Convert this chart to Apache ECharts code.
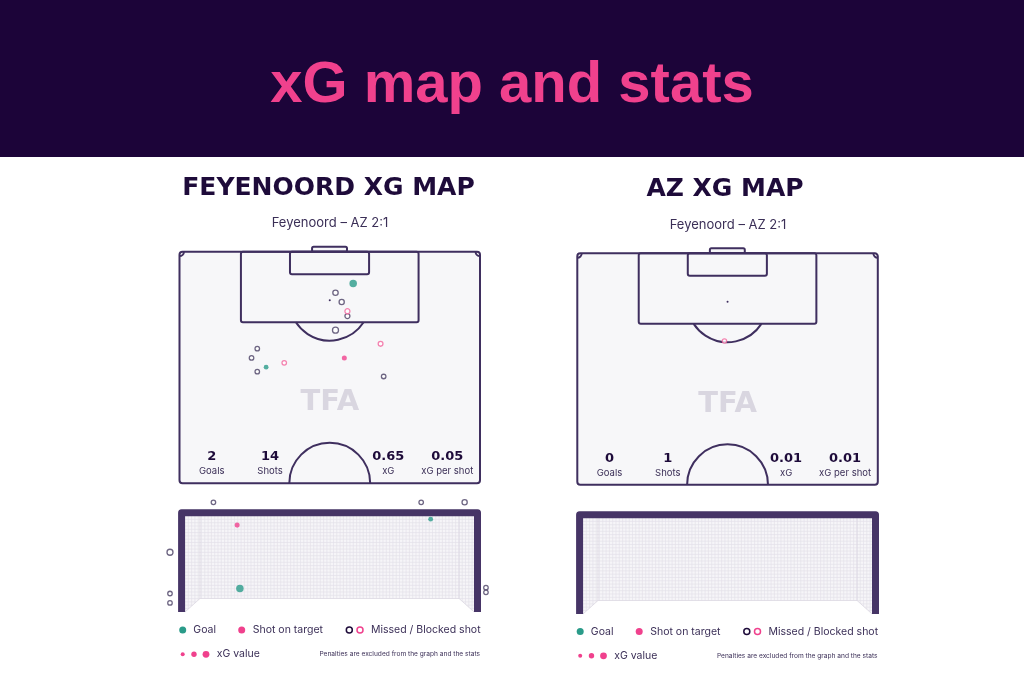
<!DOCTYPE html>
<html><head><meta charset="utf-8">
<script src="https://cdn.jsdelivr.net/npm/echarts@6/dist/echarts.min.js"></script>
<style>html,body{margin:0;padding:0;background:#fff}#c{width:1024px;height:683px}</style>
</head><body><div id="c"></div>
<script>
// ---------------- DATA ----------------
const pageTitle = 'xG map and stats';
const panelTitles = ['FEYENOORD XG MAP', 'AZ XG MAP'];
const matchLabel = 'Feyenoord – AZ 2:1';
const statLabels = ['Goals', 'Shots', 'xG', 'xG per shot'];
const feyenoordStats = ['2', '14', '0.65', '0.05'];
const azStats = ['0', '1', '0.01', '0.01'];
const legendLabels = ['Goal', 'Shot on target', 'Missed / Blocked shot', 'xG value'];
const footnote = 'Penalties are excluded from the graph and the stats';
const watermark = 'TFA';

// shots on the half pitch: [metres across (0-68), metres from goal line (0-52.5), xG, outcome]
const feyenoordShots = [
  [39.3, 7.2, 0.28, 'goal'],
  [19.6, 26.2, 0.02, 'goal'],
  [37.3, 24.1, 0.03, 'target'],
  [35.3, 9.3, 0.05, 'missed'],
  [36.7, 11.4, 0.04, 'missed'],
  [38.0, 14.6, 0.03, 'missed'],
  [35.3, 17.8, 0.10, 'missed'],
  [17.6, 22.0, 0.01, 'missed'],
  [16.3, 24.1, 0.01, 'missed'],
  [17.6, 27.2, 0.01, 'missed'],
  [46.2, 28.3, 0.01, 'missed'],
  [38.0, 13.5, 0.03, 'blocked'],
  [45.5, 20.9, 0.02, 'blocked'],
  [23.7, 25.2, 0.01, 'blocked']
];
const azShots = [
  [33.3, 19.9, 0.005, 'blocked']
];
// shots at the goal mouth: [metres from left post, metres above ground, xG, outcome]
const feyenoordGoalMouth = [
  [1.39, 0.60, 0.28, 'goal'],
  [6.22, 2.36, 0.02, 'goal'],
  [1.32, 2.21, 0.03, 'target'],
  [0.72, 2.79, 0.01, 'missed'],
  [5.98, 2.79, 0.01, 'missed'],
  [7.08, 2.79, 0.04, 'missed'],
  [-0.38, 1.52, 0.10, 'missed'],
  [-0.38, 0.47, 0.01, 'missed'],
  [-0.38, 0.23, 0.01, 'missed'],
  [7.62, 0.62, 0.01, 'missed'],
  [7.62, 0.50, 0.01, 'missed']
];
const azGoalMouth = [];

// ---------------- STYLE / LAYOUT ----------------
const C = {
  header: '#1c0439', pink: '#f0418d', teal: '#2a9b89',
  line: '#3f2f5f', frame: '#463466', dark: '#1e0b3a', text: '#3b2f57', miss: '#4a4064',
  pitch: '#f7f7f9', net: '#f6f5f8', netLine: '#e4e1ea', wm: '#d9d6e0'
};
const panels = [
  { px: 179.5, py: 251.7, gx: 165.25, gy: 498, tx: 328.5, ty: 188, sx: 330, sy: 223.5, lx: 0, ly: 0, stats: feyenoordStats, shots: feyenoordShots, mouth: feyenoordGoalMouth, title: panelTitles[0] },
  { px: 577.3, py: 253.3, gx: 563.25, gy: 500, tx: 725, ty: 189, sx: 728, sy: 225, lx: 397.5, ly: 1.5, stats: azStats, shots: azShots, mouth: azGoalMouth, title: panelTitles[1] }
];
const PW = 300.5, PH = 231.5, GW = 328.6, GH = 114;
const BODY = 'Inter, "Noto Sans", sans-serif';

function sizeOf(xg) { return 3.8 + 7 * Math.sqrt(xg); }
function toItem(s) {
  const sz = sizeOf(s[2]);
  const o = s[3];
  let st;
  if (o === 'goal') st = { color: C.teal };
  else if (o === 'target') st = { color: C.pink };
  else if (o === 'missed') st = { color: '#ffffff', borderColor: C.miss, borderWidth: 1.3 };
  else st = { color: '#ffffff', borderColor: '#f2659e', borderWidth: 1.3 };
  return { value: s, symbolSize: sz, itemStyle: st };
}

function renderPitch(params, api) {
  const c = (x, y) => api.coord([x, y]);
  const a = c(0, 0), b = c(68, 52.5);
  const k = (b[0] - a[0]) / 68;
  const st = { stroke: C.line, lineWidth: 2, fill: null };
  const rect = (x0, y0, x1, y1, r, fill) => {
    const p = c(x0, y0), q = c(x1, y1);
    return { type: 'rect', shape: { x: p[0], y: p[1], width: q[0] - p[0], height: q[1] - p[1], r: r }, style: Object.assign({}, st, { fill: fill || null }) };
  };
  const ch = [];
  ch.push(rect(30, -1.15, 37.9, 0, 1.5, C.pitch));
  ch.push(rect(0, 0, 68, 52.5, 3, C.pitch));
  const wc = c(34, 34.3);
  ch.push({ type: 'text', x: wc[0], y: wc[1], style: { text: watermark, fill: C.wm, font: '900 29px "DejaVu Sans"', align: 'center', verticalAlign: 'middle' } });
  ch.push(rect(13.9, 0, 54.1, 16.0, 2));
  ch.push(rect(25.0, 0, 42.9, 5.1, 2));
  const ps = c(34, 11);
  ch.push({ type: 'circle', shape: { cx: ps[0], cy: ps[1], r: 1 }, style: { fill: C.line } });
  const ang = Math.acos(5 / 9.15);
  ch.push({ type: 'arc', shape: { cx: ps[0], cy: ps[1], r: 9.15 * k, startAngle: Math.PI / 2 - ang, endAngle: Math.PI / 2 + ang, clockwise: true }, style: st });
  const cc = c(34, 52.5);
  ch.push({ type: 'arc', shape: { cx: cc[0], cy: cc[1], r: 9.15 * k, startAngle: Math.PI, endAngle: Math.PI * 2, clockwise: true }, style: st });
  ch.push({ type: 'arc', shape: { cx: a[0], cy: a[1], r: 1 * k, startAngle: 0, endAngle: Math.PI / 2, clockwise: true }, style: st });
  ch.push({ type: 'arc', shape: { cx: b[0], cy: a[1], r: 1 * k, startAngle: Math.PI / 2, endAngle: Math.PI, clockwise: true }, style: st });
  return { type: 'group', children: ch };
}

function renderGoal(params, api) {
  const L = api.coord([0, 2.44]), R = api.coord([7.32, 0]);
  const x0 = L[0], y0 = L[1], x1 = R[0], y1 = R[1];
  const ins = 15, drop = 13.5, bb = y1 - drop;
  const ch = [];
  ch.push({ type: 'polygon', shape: { points: [[x0, y0], [x1, y0], [x1, y1], [x1 - ins, bb], [x0 + ins, bb], [x0, y1]] }, style: { fill: C.net } });
  const step = 3.3;
  const ls = { stroke: C.netLine, lineWidth: 0.7 };
  for (let x = x0 + step; x < x1; x += step) {
    let yb = bb;
    if (x < x0 + ins) yb = y1 - (x - x0) * drop / ins;
    else if (x > x1 - ins) yb = y1 - (x1 - x) * drop / ins;
    ch.push({ type: 'line', shape: { x1: x, y1: y0, x2: x, y2: yb }, style: ls });
  }
  for (let y = y0 + step; y < y1; y += step) {
    if (y <= bb) ch.push({ type: 'line', shape: { x1: x0, y1: y, x2: x1, y2: y }, style: ls });
    else {
      const w = (y1 - y) * ins / drop;
      ch.push({ type: 'line', shape: { x1: x0, y1: y, x2: x0 + w, y2: y }, style: ls });
      ch.push({ type: 'line', shape: { x1: x1 - w, y1: y, x2: x1, y2: y }, style: ls });
    }
  }
  const es = { stroke: '#dcd8e2', lineWidth: 0.8 };
  ch.push({ type: 'polyline', shape: { points: [[x0 + ins, y0], [x0 + ins, bb], [x1 - ins, bb], [x1 - ins, y0]] }, style: Object.assign({ fill: null }, es) });
  ch.push({ type: 'line', shape: { x1: x0, y1: y1, x2: x0 + ins, y2: bb }, style: es });
  ch.push({ type: 'line', shape: { x1: x1, y1: y1, x2: x1 - ins, y2: bb }, style: es });
  ch.push({ type: 'polyline', shape: { points: [[x0 - 3.4, y1], [x0 - 3.4, y0 - 3.3], [x1 + 3.4, y0 - 3.3], [x1 + 3.4, y1]] }, style: { stroke: C.frame, lineWidth: 7, lineJoin: 'round', fill: null } });
  return { type: 'group', children: ch };
}

const grid = [], xAxis = [], yAxis = [], series = [], graphic = [];
const hidden = { show: false };
graphic.push({ type: 'rect', shape: { x: 0, y: 0, width: 1024, height: 157 }, style: { fill: C.header }, z: 0 });
graphic.push({ type: 'text', x: 512, y: 86, style: { text: pageTitle, fill: C.pink, font: 'bold 58px "Liberation Sans", Arial, sans-serif', align: 'center', verticalAlign: 'middle' }, z: 10 });

panels.forEach((P, i) => {
  const gi = i * 2;
  grid.push({ left: P.px, top: P.py, width: PW, height: PH });
  grid.push({ left: P.gx, top: P.gy, width: GW, height: GH });
  xAxis.push(Object.assign({ gridIndex: gi, type: 'value', min: 0, max: 68 }, hidden));
  yAxis.push(Object.assign({ gridIndex: gi, type: 'value', min: 0, max: 52.5, inverse: true }, hidden));
  xAxis.push(Object.assign({ gridIndex: gi + 1, type: 'value', min: -0.5, max: 7.82 }, hidden));
  yAxis.push(Object.assign({ gridIndex: gi + 1, type: 'value', min: 0, max: 2.9 }, hidden));
  series.push({ type: 'custom', xAxisIndex: gi, yAxisIndex: gi, data: [[0, 0]], renderItem: renderPitch, silent: true, z: 1, clip: false });
  series.push({ type: 'scatter', xAxisIndex: gi, yAxisIndex: gi, data: P.shots.map(toItem), z: 5, silent: true, clip: false });
  series.push({ type: 'custom', xAxisIndex: gi + 1, yAxisIndex: gi + 1, data: [[0, 0]], renderItem: renderGoal, silent: true, z: 1, clip: false });
  series.push({ type: 'scatter', xAxisIndex: gi + 1, yAxisIndex: gi + 1, data: P.mouth.map(toItem), z: 5, silent: true, clip: false });

  graphic.push({ type: 'text', x: P.tx, y: P.ty, style: { text: P.title, fill: C.dark, font: 'bold 25px "DejaVu Sans"', align: 'center', verticalAlign: 'middle' }, z: 10 });
  graphic.push({ type: 'text', x: P.sx, y: P.sy, style: { text: matchLabel, fill: C.text, font: '13px ' + BODY, align: 'center', verticalAlign: 'middle' }, z: 10 });
  const sxs = [32.2, 90.5, 208.8, 267.8];
  sxs.forEach((dx, j) => {
    graphic.push({ type: 'text', x: P.px + dx, y: P.py + 205, style: { text: P.stats[j], fill: C.dark, font: 'bold 13px "DejaVu Sans"', align: 'center', verticalAlign: 'middle' }, z: 10 });
    graphic.push({ type: 'text', x: P.px + dx, y: P.py + 219.5, style: { text: statLabels[j], fill: C.text, font: '9.5px ' + BODY, align: 'center', verticalAlign: 'middle' }, z: 10 });
  });
  // legend
  const lx = P.lx, ly = P.ly;
  const r1 = 630 + ly, r2 = 654.3 + ly;
  const tfont = '10.5px ' + BODY;
  graphic.push({ type: 'circle', shape: { cx: 182.7 + lx, cy: r1, r: 3.5 }, style: { fill: C.teal }, z: 10 });
  graphic.push({ type: 'text', x: 193.3 + lx, y: r1, style: { text: legendLabels[0], fill: C.text, font: tfont, verticalAlign: 'middle' }, z: 10 });
  graphic.push({ type: 'circle', shape: { cx: 241.7 + lx, cy: r1, r: 3.5 }, style: { fill: C.pink }, z: 10 });
  graphic.push({ type: 'text', x: 252.7 + lx, y: r1, style: { text: legendLabels[1], fill: C.text, font: tfont, verticalAlign: 'middle' }, z: 10 });
  graphic.push({ type: 'circle', shape: { cx: 349.3 + lx, cy: r1, r: 3 }, style: { fill: '#fff', stroke: C.dark, lineWidth: 1.5 }, z: 10 });
  graphic.push({ type: 'circle', shape: { cx: 360 + lx, cy: r1, r: 3 }, style: { fill: '#fff', stroke: C.pink, lineWidth: 1.5 }, z: 10 });
  graphic.push({ type: 'text', x: 371 + lx, y: r1, style: { text: legendLabels[2], fill: C.text, font: tfont, verticalAlign: 'middle' }, z: 10 });
  [[182.7, 2], [194, 2.7], [206, 3.4]].forEach(d => {
    graphic.push({ type: 'circle', shape: { cx: d[0] + lx, cy: r2, r: d[1] }, style: { fill: C.pink }, z: 10 });
  });
  graphic.push({ type: 'text', x: 216.7 + lx, y: r2, style: { text: legendLabels[3], fill: C.text, font: tfont, verticalAlign: 'middle' }, z: 10 });
  graphic.push({ type: 'text', x: 480 + lx, y: r2, style: { text: footnote, fill: C.text, font: '6.6px ' + BODY, align: 'right', verticalAlign: 'middle' }, z: 10 });
});

const chart = echarts.init(document.getElementById('c'), null, { renderer: 'canvas' });
chart.setOption({ animation: false, backgroundColor: '#ffffff', grid, xAxis, yAxis, series, graphic });
</script></body></html>
